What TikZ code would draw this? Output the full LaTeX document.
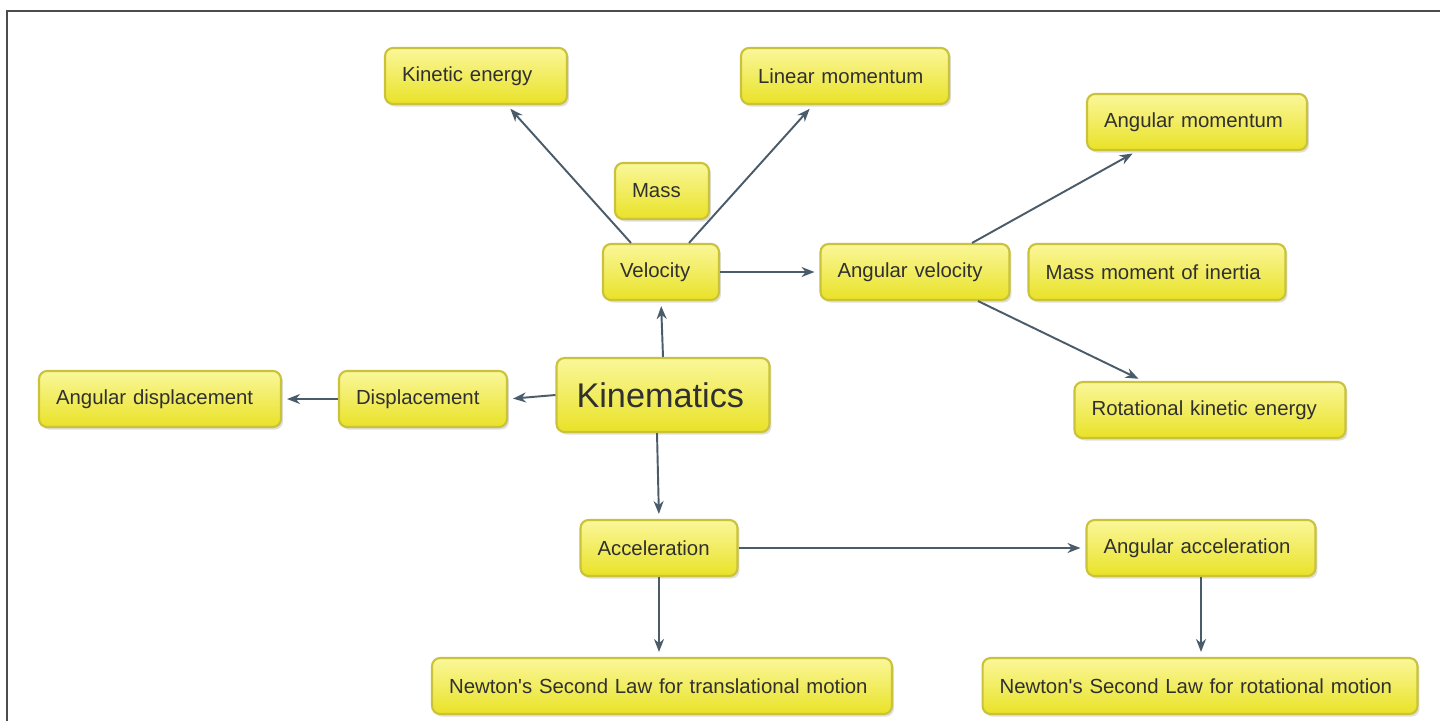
\documentclass[tikz,border=0pt]{standalone}
\usepackage{fontspec}
\setmainfont{Liberation Sans}
\usetikzlibrary{calc,shadows,arrows.meta}

\definecolor{boxtop}{HTML}{FAF79A}
\definecolor{boxbot}{HTML}{E9E227}
\definecolor{boxline}{HTML}{C9C23A}
\definecolor{arrowcol}{HTML}{4A5C6A}
\definecolor{textcol}{HTML}{303030}

\tikzset{
  conceptbox/.style={draw=boxline, line width=1.2pt, rounded corners=0.16cm,
    top color=boxtop, bottom color=boxbot, text=textcol,
    text width=#1, align=left,
    minimum height=1.12cm, inner xsep=0.34cm, inner ysep=0pt,
    font=\fontsize{11.6}{14}\selectfont,
    drop shadow={shadow xshift=0.04cm, shadow yshift=-0.05cm, opacity=0.25}},
  mainbox/.style={conceptbox=#1, minimum height=1.48cm, inner xsep=0.4cm,
    font=\fontsize{19.5}{23}\selectfont},
  link/.style={draw=arrowcol, line width=1.1pt,
    -{Stealth[length=0.26cm, width=0.2cm]}, shorten >=0.1cm}
}

\begin{document}
\begin{tikzpicture}[x=0.02cm, y=-0.02cm]
    \useasboundingbox (0,0) rectangle (1440,721);
    \fill[white] (0,0) rectangle (1440,721);
    \draw[gray!60!black, line width=1.4pt] (7,721) -- (7,11) -- (1440,11);

    % nodes
    \node[mainbox=3.46cm] (kin) at (663,395) {Kinematics};
    \node[conceptbox=1.64cm] (vel) at (661,272) {Velocity};
    \node[conceptbox=1.2cm] (mass) at (662,191) {Mass};
    \node[conceptbox=2.96cm] (ke) at (476,76) {Kinetic energy};
    \node[conceptbox=3.48cm] (lm) at (845,76) {Linear momentum};
    \node[conceptbox=3.1cm] (av) at (915,272) {Angular velocity};
    \node[conceptbox=3.72cm] (am) at (1197,122) {Angular momentum};
    \node[conceptbox=4.46cm] (mmi) at (1157,272) {Mass moment of inertia};
    \node[conceptbox=4.74cm] (rke) at (1210,410) {Rotational kinetic energy};
    \node[conceptbox=2.68cm] (disp) at (423,399) {Displacement};
    \node[conceptbox=4.16cm] (ad) at (160,399) {Angular displacement};
    \node[conceptbox=2.46cm] (acc) at (659,548) {Acceleration};
    \node[conceptbox=3.9cm] (aa) at (1201,548) {Angular acceleration};
    \node[conceptbox=8.52cm] (ntr) at (662,686) {Newton\textquotesingle s Second Law for translational motion};
    \node[conceptbox=8.02cm] (nrot) at (1200,686) {Newton\textquotesingle s Second Law for rotational motion};

    % links
    \draw[link] (kin.north) -- (vel.south);
    \draw[link] (kin.west) -- (disp.east);
    \draw[link] (disp.west) -- (ad.east);
    \draw[link] ($(kin.south)+(-6,0)$) -- (acc.north);
    \draw[link] ($(vel.north)+(-30,0)$) -- ($(ke.south)+(31,0)$);
    \draw[link] ($(vel.north)+(28,0)$) -- ($(lm.south)+(-32,0)$);
    \draw[link] (vel.east) -- (av.west);
    \draw[link] ($(av.north)+(57,0)$) -- ($(am.south)+(-60,0)$);
    \draw[link] ($(av.south)+(63,0)$) -- ($(rke.north)+(-67,0)$);
    \draw[link] (acc.east) -- (aa.west);
    \draw[link] (acc.south) -- (acc.south |- ntr.north);
    \draw[link] (aa.south) -- (aa.south |- nrot.north);
\end{tikzpicture}
\end{document}
